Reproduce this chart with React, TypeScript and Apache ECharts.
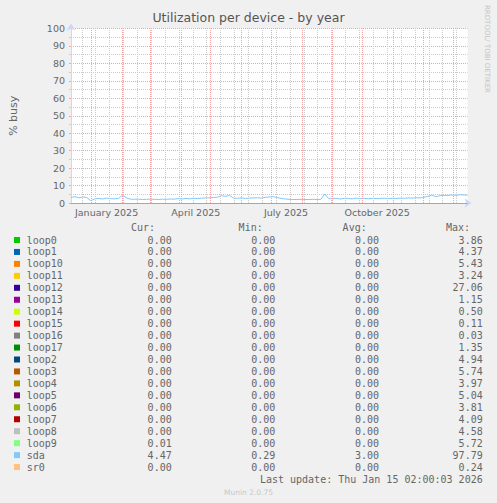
import { useEffect, useRef } from 'react';
import * as echarts from 'echarts';

const DAY = 24 * 60 * 60 * 1000;
const lastUpdate = new Date(2026, 0, 15, 2, 0, 3).getTime();
const rangeStart = lastUpdate - 400 * DAY;
// minor grid (every 2 weeks) is anchored on a sunday
const weekAnchor = new Date(2024, 11, 22).getTime();
const sampleStep = 4 * DAY;

const monthNames = [
  'January', 'February', 'March', 'April', 'May', 'June',
  'July', 'August', 'September', 'October', 'November', 'December',
];

// major grid: first day of each month inside the range
const monthStarts = [
  '2025-01', '2025-02', '2025-03', '2025-04', '2025-05', '2025-06', '2025-07',
  '2025-08', '2025-09', '2025-10', '2025-11', '2025-12', '2026-01',
];

// sda % busy, one reading every 4 days from the start of the range
const sdaBusy = [
  3.2, 3.6, 3.0, 3.5, 3.1, 1.3, 2.4, 2.6, 2.3, 2.8,
  2.5, 2.4, 2.6, 4.5, 2.9, 2.2, 2.1, 2.2, 2.0, 2.1,
  2.2, 2.1, 2.0, 2.2, 2.1, 2.3, 2.2, 2.5, 2.3, 2.6,
  2.4, 2.7, 2.5, 2.8, 2.9, 3.0, 3.2, 3.3, 4.2, 3.8,
  4.3, 2.8, 2.7, 2.9, 2.6, 2.8, 2.9, 3.0, 2.8, 3.2,
  3.5, 3.6, 3.1, 2.6, 2.3, 2.1, 2.0, 2.0, 2.1, 2.0,
  2.0, 2.1, 2.0, 2.1, 5.1, 2.5, 2.4, 2.6, 2.3, 2.7,
  2.5, 2.4, 2.8, 2.5, 2.6, 2.4, 2.7, 2.5, 2.6, 2.8,
  2.5, 2.7, 2.6, 2.8, 2.7, 2.9, 2.8, 3.0, 2.9, 3.3,
  3.8, 4.6, 3.6, 4.2, 4.4, 4.3, 4.6, 4.4, 4.7, 4.6,
  4.5,
];

const devices = [
  'loop0', 'loop1', 'loop10', 'loop11', 'loop12', 'loop13', 'loop14', 'loop15', 'loop16', 'loop17',
  'loop2', 'loop3', 'loop4', 'loop5', 'loop6', 'loop7', 'loop8', 'loop9', 'sda', 'sr0',
];
const deviceColors = [
  '#00CC00', '#0066B3', '#FF8000', '#FFCC00', '#330099', '#990099', '#CCFF00', '#FF0000', '#808080', '#008F00',
  '#00487D', '#B35A00', '#B38F00', '#6B006B', '#8FB300', '#B30000', '#BEBEBE', '#80FF80', '#80C9FF', '#FFC080',
];
const curValues = [0, 0, 0, 0, 0, 0, 0, 0, 0, 0, 0, 0, 0, 0, 0, 0, 0, 0.01, 4.47, 0];
const minValues = [0, 0, 0, 0, 0, 0, 0, 0, 0, 0, 0, 0, 0, 0, 0, 0, 0, 0, 0.29, 0];
const avgValues = [0, 0, 0, 0, 0, 0, 0, 0, 0, 0, 0, 0, 0, 0, 0, 0, 0, 0, 3.0, 0];
const maxValues = [
  3.86, 4.37, 5.43, 3.24, 27.06, 1.15, 0.5, 0.11, 0.03, 1.35,
  4.94, 5.74, 3.97, 5.04, 3.81, 4.09, 4.58, 5.72, 97.79, 0.24,
];
const headers = ['Cur:', 'Min:', 'Avg:', 'Max:'];

const fontColor = '#666666';
const mgrid = '#f3a3a3';
const minorGrid = '#cccccc';
const axisColor = '#CFD6F8';

function monthStartMs(s: string) {
  const [y, m] = s.split('-').map(Number);
  return new Date(y, m - 1, 1).getTime();
}

// two-week grid positions inside the range
function fortnightLines() {
  const out: number[] = [];
  for (let t = weekAnchor; t < lastUpdate; t += 14 * DAY) {
    if (t > rangeStart) out.push(t);
  }
  return out;
}

export default function App() {
  const ref = useRef<HTMLDivElement>(null);

  useEffect(() => {
    document.body.style.margin = '0';
    if (!ref.current) return;
    const chart = echarts.init(ref.current, undefined, { renderer: 'svg' });

    const mono = { fontFamily: 'DejaVu Sans Mono', fontSize: 10, fill: fontColor };
    const headerRight = [155, 262.7, 366.7, 470];
    const valueRight = [171.7, 275.3, 379, 482.7];
    const rowTop = 240;
    const rowStep = 11.95;

    const legend: any[] = [];
    headers.forEach((h, k) => {
      legend.push({
        type: 'text', x: headerRight[k], y: 227.3,
        style: { ...mono, text: h, align: 'right', verticalAlign: 'middle' },
      });
    });
    devices.forEach((name, i) => {
      const y = rowTop + i * rowStep;
      legend.push({ type: 'rect', shape: { x: 14, y: y - 3, width: 6, height: 6 }, style: { fill: deviceColors[i] } });
      legend.push({ type: 'text', x: 26.7, y, style: { ...mono, text: name, align: 'left', verticalAlign: 'middle' } });
      [curValues[i], minValues[i], avgValues[i], maxValues[i]].forEach((v, k) => {
        legend.push({
          type: 'text', x: valueRight[k], y,
          style: { ...mono, text: v.toFixed(2), align: 'right', verticalAlign: 'middle' },
        });
      });
    });
    const stamp = new Date(lastUpdate);
    const pad = (n: number) => String(n).padStart(2, '0');
    const stampText = `Last update: Thu Jan ${stamp.getDate()} ${pad(stamp.getHours())}:${pad(stamp.getMinutes())}:${pad(stamp.getSeconds())} ${stamp.getFullYear()}`;
    legend.push({
      type: 'text', x: 482.7, y: 479.3,
      style: { ...mono, text: stampText, align: 'right', verticalAlign: 'middle' },
    });
    legend.push({
      type: 'text', x: 248.5, y: 492.3,
      style: { text: 'Munin 2.0.75', fontFamily: 'DejaVu Sans', fontSize: 7.5, fill: '#c8c8c8', align: 'center', verticalAlign: 'middle' },
    });
    legend.push({
      type: 'text', x: 487.3, y: 5, rotation: -Math.PI / 2,
      style: { text: 'RRDTOOL/ TOBI OETIKER', fontFamily: 'DejaVu Sans', fontSize: 7, fill: '#c4c4c4', align: 'left', verticalAlign: 'middle' },
    });

    const option: echarts.EChartsOption = {
      animation: false,
      backgroundColor: '#f0f0f0',
      textStyle: { fontFamily: 'DejaVu Sans' },
      title: {
        text: 'Utilization per device - by year',
        left: 'center',
        top: 10.5,
        padding: 0,
        textStyle: { fontSize: 12.5, fontWeight: 'normal', color: '#555555', fontFamily: 'DejaVu Sans' },
      },
      grid: {
        left: 66.5, top: 28.5, width: 401, height: 174.5,
        show: true, backgroundColor: '#ffffff', borderWidth: 0,
      },
      xAxis: [
        {
          type: 'time',
          position: 'bottom',
          min: rangeStart,
          max: lastUpdate,
          axisLine: {
            onZero: false,
            lineStyle: { color: axisColor, width: 1 },
            symbol: ['none', 'arrow'], symbolSize: [7, 7], symbolOffset: [0, 4],
          },
          axisTick: { show: false },
          axisLabel: { show: false },
          splitLine: { show: false },
        },
        {
          // labels sit half a month past the month start, like rrdtool
          type: 'time',
          position: 'bottom',
          offset: 0,
          min: rangeStart - 15 * DAY,
          max: lastUpdate - 15 * DAY,
          minInterval: 28 * DAY,
          maxInterval: 31 * DAY,
          axisLine: { show: false, onZero: false },
          axisTick: { show: false },
          splitLine: { show: false },
          axisLabel: {
            show: true,
            margin: 4,
            fontSize: 9.5,
            color: fontColor,
            hideOverlap: false,
            showMinLabel: false,
            showMaxLabel: false,
            formatter: (value: number) => {
              const d = new Date(value);
              if (d.getDate() !== 1) return '';
              return d.getMonth() % 3 === 0 ? `${monthNames[d.getMonth()]} ${d.getFullYear()}` : '';
            },
          },
        },
      ],
      yAxis: {
        type: 'value',
        min: 0,
        max: 100,
        interval: 10,
        name: '% busy',
        nameLocation: 'middle',
        nameRotate: 90,
        nameGap: 52,
        nameTextStyle: { fontSize: 11, color: fontColor },
        axisLine: {
          show: true,
          onZero: false,
          lineStyle: { color: axisColor, width: 1 },
          symbol: ['none', 'arrow'], symbolSize: [7, 7], symbolOffset: [0, 5],
        },
        axisTick: { show: true, length: 2, lineStyle: { color: mgrid } },
        minorTick: { show: true, splitNumber: 2, length: 2, lineStyle: { color: minorGrid } },
        axisLabel: { fontSize: 9.5, color: fontColor, margin: 6 },
        splitLine: { show: true, lineStyle: { color: mgrid, type: [1, 1] } },
        minorSplitLine: { show: true, lineStyle: { color: minorGrid, type: [1, 1] } },
      },
      series: [
        {
          // carries the two-week grid lines only
          type: 'line',
          name: 'week grid',
          xAxisIndex: 0,
          z: 1,
          data: [],
          markLine: {
            silent: true,
            symbol: 'none',
            label: { show: false },
            lineStyle: { color: minorGrid, type: [1, 1], width: 1 },
            data: fortnightLines().map((t) => ({ xAxis: t })),
          },
        },
        {
          // carries the month grid lines only
          type: 'line',
          name: 'month grid',
          xAxisIndex: 0,
          z: 1,
          data: [],
          markLine: {
            silent: true,
            symbol: 'none',
            label: { show: false },
            lineStyle: { color: mgrid, type: [1, 1], width: 1 },
            data: monthStarts.map((m) => ({ xAxis: monthStartMs(m) })),
          },
        },
        {
          type: 'line',
          name: 'sda',
          xAxisIndex: 0,
          z: 3,
          data: sdaBusy.map((v, i) => [rangeStart + i * sampleStep, v]),
          showSymbol: false,
          symbol: 'none',
          lineStyle: { color: '#80C9FF', width: 1 },
          markLine: {
            silent: true,
            symbol: 'none',
            label: { show: false },
            lineStyle: { color: '#a8a8a8', type: 'solid', width: 1 },
            data: [{ yAxis: 0 }],
          },
        },
      ],
      graphic: legend,
    };

    chart.setOption(option);
    return () => chart.dispose();
  }, []);

  return <div ref={ref} style={{ width: 497, height: 503 }} />;
}
